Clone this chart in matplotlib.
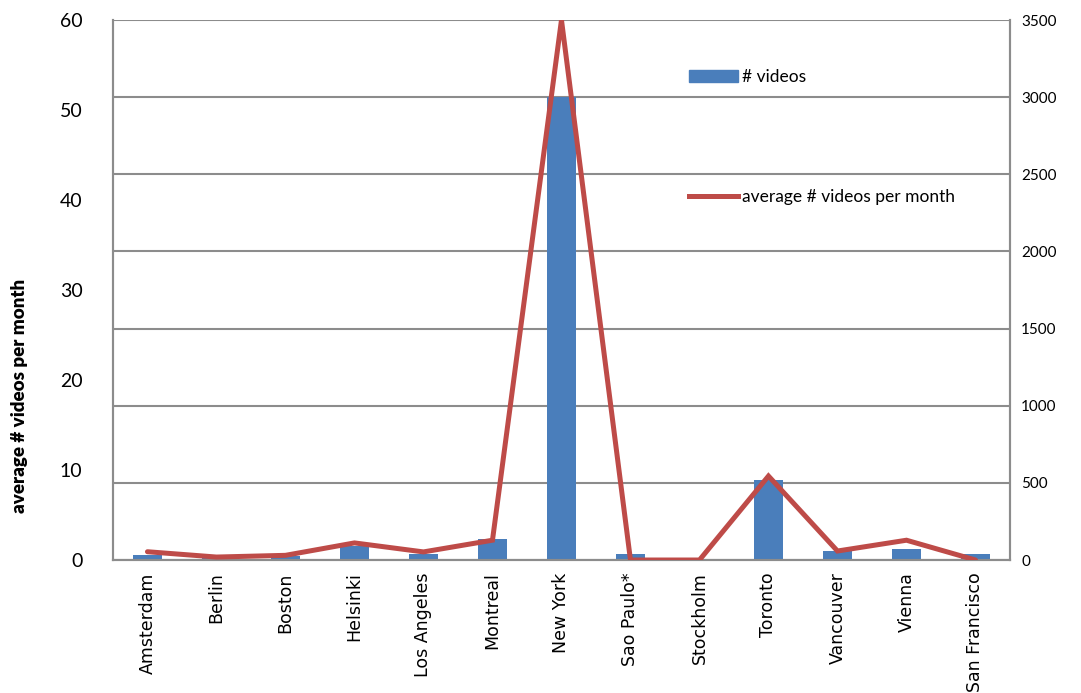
import numpy as np
import matplotlib.pyplot as plt
from matplotlib.patches import Patch
from matplotlib.lines import Line2D

cities = ["Amsterdam", "Berlin", "Boston", "Helsinki", "Los Angeles", "Montreal",
          "New York", "Sao Paulo*", "Stockholm", "Toronto", "Vancouver", "Vienna",
          "San Francisco"]
videos = [30, 10, 25, 91, 41, 134, 3000, 41, 0, 516, 58, 71, 37]
avg_per_month = [0.92, 0.33, 0.52, 1.9, 0.9, 2.2, 60, 0, 0, 9.33, 1.0, 2.2, 0]

left_ticks = [0, 10, 20, 30, 40, 50, 60]
right_ticks = [0, 500, 1000, 1500, 2000, 2500, 3000, 3500]

bar_color = "#4a7ebb"
line_color = "#be4b48"
grid_color = "#8c8c8c"

fig = plt.figure(figsize=(10.81, 6.93), dpi=100)
ax = fig.add_axes([0.1045, 0.1919, 0.8298, 0.7792])
ax2 = ax.twinx()

x = np.arange(len(cities))

# bars on the right scale, behind the line
ax2.bar(x, videos, width=0.43, color=bar_color, zorder=2)
ax2.set_ylim(0, 3500)
ax2.set_yticks(right_ticks)
ax2.yaxis.grid(True, color=grid_color, linewidth=1.5)
ax2.set_axisbelow(True)
ax2.tick_params(axis="y", length=0, pad=8, labelsize=11)

ax.plot(x, avg_per_month, color=line_color, linewidth=3.6, solid_capstyle="round",
        solid_joinstyle="miter", zorder=3)
ax.set_ylim(0, 60)
ax.set_yticks(left_ticks)
ax.set_xlim(-0.5, len(cities) - 0.5)
ax.set_xticks(x)
ax.set_xticklabels(cities, rotation=90)
ax.tick_params(axis="x", length=0, pad=9)
ax.tick_params(axis="y", length=0, pad=22)
for lbl in ax.get_xticklabels():
    lbl.set_fontfamily("DejaVu Sans")
    lbl.set_fontsize(12.5)
for lbl in ax.get_yticklabels():
    lbl.set_fontsize(14)
    lbl.set_fontfamily("Lato")
for lbl in ax2.get_yticklabels():
    lbl.set_fontfamily("Lato")

ax.set_zorder(ax2.get_zorder() + 1)
ax.patch.set_visible(False)

for a in (ax, ax2):
    for s in a.spines.values():
        s.set_color(grid_color)
        s.set_linewidth(1.5)
ax.spines["top"].set_visible(False)
ax2.spines["top"].set_visible(False)

fig.text(20 / 1081, (693 - 396) / 693, "average # videos per month", rotation=90,
         ha="center", va="center", fontsize=13.5, fontweight="heavy", family="Lato")

handles = [Patch(color=bar_color), Line2D([], [], color=line_color, linewidth=3.6)]
ax.legend(handles, ["# videos", "average # videos per month"], loc="upper left",
          bbox_to_anchor=(0.633, 0.926), frameon=False, labelspacing=6.0,
          handlelength=2.8, handletextpad=0.25, borderpad=0,
          prop={"family": "Lato", "size": 12.5})

fig.savefig("out.png", dpi=100)
